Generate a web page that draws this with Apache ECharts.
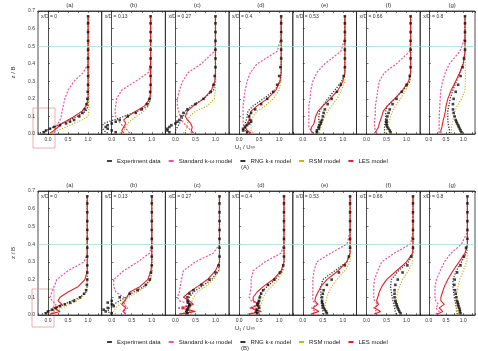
<!DOCTYPE html>
<html>
<head>
<meta charset="utf-8">
<script src="https://cdn.jsdelivr.net/npm/echarts@6/dist/echarts.min.js"></script>
<style>
html, body { margin: 0; padding: 0; background: #fff; }
#main { width: 478px; height: 351px; }
</style>
</head>
<body>
<div id="main"></div>
<script>
// panel tags and stations
var panelTags = ['(a)', '(b)', '(c)', '(d)', '(e)', '(f)', '(g)'];
var stations = ['x/D = 0', 'x/D = 0.13', 'x/D = 0.27', 'x/D = 0.4', 'x/D = 0.53', 'x/D = 0.66', 'x/D = 0.8'];
var modelNames = ['Experiment data', 'Standard k-ω model', 'RNG k-ε model', 'RSM model', 'LES model'];

// heights (z/B) where the profiles are read
var zModel = [0.005, 0.02, 0.04, 0.06, 0.08, 0.1, 0.13, 0.16, 0.2, 0.25, 0.3, 0.35, 0.4, 0.47, 0.55, 0.67];
var zExp = [0.01, 0.02, 0.03, 0.04, 0.05, 0.06, 0.07, 0.08, 0.1, 0.12, 0.14, 0.17, 0.2, 0.24, 0.28, 0.33, 0.38, 0.43, 0.48, 0.53, 0.58, 0.63, 0.67];

// ---- row (A) ----
var expA = [
  [-0.1, -0.05, 0.05, 0.15, 0.3, 0.45, 0.55, 0.65, 0.78, 0.86, 0.92, 0.96, 0.98, 0.99, 1.0, 1.0, 1.0, 1.0, 1.0, 1.0, 1.0, 1.0, 1.0],
  [0.1, 0.0, -0.1, -0.15, -0.1, 0.0, 0.1, 0.2, 0.4, 0.6, 0.75, 0.88, 0.94, 0.96, 0.97, 0.97, 0.97, 0.97, 0.97, 0.97, 0.97, 0.97, 0.97],
  [-0.15, -0.2, -0.2, -0.15, -0.1, 0.0, 0.05, 0.1, 0.15, 0.2, 0.3, 0.5, 0.7, 0.88, 0.95, 0.98, 1.0, 1.0, 1.0, 1.0, 1.0, 1.0, 1.0],
  [0.2, 0.1, 0.1, 0.15, 0.2, 0.25, 0.3, 0.28, 0.25, 0.3, 0.4, 0.55, 0.7, 0.85, 0.95, 1.0, 1.03, 1.05, 1.05, 1.05, 1.05, 1.05, 1.05],
  [0.35, 0.35, 0.4, 0.4, 0.42, 0.45, 0.45, 0.48, 0.5, 0.52, 0.55, 0.62, 0.72, 0.85, 0.95, 1.02, 1.05, 1.05, 1.05, 1.05, 1.05, 1.05, 1.05],
  [0.6, 0.58, 0.55, 0.52, 0.5, 0.5, 0.5, 0.5, 0.52, 0.55, 0.58, 0.65, 0.75, 0.88, 1.0, 1.08, 1.1, 1.1, 1.1, 1.1, 1.1, 1.1, 1.1],
  [0.95, 0.92, 0.9, 0.87, 0.85, 0.82, 0.8, 0.78, 0.75, 0.72, 0.7, 0.7, 0.72, 0.78, 0.85, 0.92, 0.98, 1.02, 1.05, 1.05, 1.05, 1.05, 1.05]
];
var kwA = [
  [0.15, 0.17, 0.2, 0.25, 0.3, 0.33, 0.35, 0.38, 0.42, 0.5, 0.65, 0.88, 1.0, 1.0, 1.0, 1.0],
  [0.45, 0.4, 0.3, 0.22, 0.15, 0.1, 0.08, 0.1, 0.12, 0.25, 0.6, 0.92, 0.97, 0.97, 0.97, 0.97],
  [0.4, 0.38, 0.3, 0.22, 0.15, 0.12, 0.08, 0.05, 0.05, 0.1, 0.18, 0.32, 0.65, 0.97, 1.0, 1.0],
  [0.3, 0.2, 0.12, 0.1, 0.1, 0.1, 0.1, 0.1, 0.12, 0.15, 0.2, 0.28, 0.45, 0.95, 1.05, 1.05],
  [0.25, 0.2, 0.15, 0.15, 0.15, 0.15, 0.15, 0.15, 0.18, 0.2, 0.25, 0.35, 0.55, 0.95, 1.05, 1.05],
  [0.25, 0.22, 0.2, 0.2, 0.2, 0.22, 0.22, 0.22, 0.25, 0.28, 0.32, 0.45, 0.75, 1.08, 1.1, 1.1],
  [0.3, 0.3, 0.3, 0.3, 0.3, 0.3, 0.31, 0.32, 0.33, 0.35, 0.4, 0.48, 0.6, 0.9, 1.05, 1.05]
];
var rngA = [
  [-0.2, -0.05, 0.15, 0.35, 0.55, 0.72, 0.95, 1.0, 1.0, 1.0, 1.0, 1.0, 1.0, 1.0, 1.0, 1.0],
  [-0.1, -0.2, -0.25, -0.2, 0.05, 0.3, 0.65, 0.9, 0.97, 0.97, 0.97, 0.97, 0.97, 0.97, 0.97, 0.97],
  [0.0, 0.0, 0.05, 0.1, 0.15, 0.2, 0.25, 0.4, 0.7, 0.95, 1.0, 1.0, 1.0, 1.0, 1.0, 1.0],
  [0.2, 0.15, 0.15, 0.15, 0.18, 0.2, 0.22, 0.35, 0.6, 0.9, 1.02, 1.05, 1.05, 1.05, 1.05, 1.05],
  [0.35, 0.35, 0.38, 0.4, 0.4, 0.4, 0.42, 0.5, 0.62, 0.8, 0.97, 1.05, 1.05, 1.05, 1.05, 1.05],
  [0.45, 0.45, 0.45, 0.46, 0.47, 0.48, 0.48, 0.52, 0.7, 0.92, 1.08, 1.1, 1.1, 1.1, 1.1, 1.1],
  [0.6, 0.6, 0.58, 0.56, 0.55, 0.55, 0.55, 0.58, 0.62, 0.7, 0.8, 0.9, 1.0, 1.05, 1.05, 1.05]
];
var rsmA = [
  [0.1, 0.25, 0.45, 0.65, 0.85, 1.0, 1.02, 1.02, 1.02, 1.02, 1.02, 1.02, 1.02, 1.02, 1.02, 1.02],
  [0.2, 0.3, 0.35, 0.4, 0.5, 0.62, 0.8, 0.92, 0.97, 0.98, 0.98, 0.98, 0.98, 0.98, 0.98, 0.98],
  [0.2, 0.25, 0.28, 0.3, 0.32, 0.35, 0.5, 0.8, 0.97, 1.0, 1.0, 1.0, 1.0, 1.0, 1.0, 1.0],
  [0.35, 0.3, 0.3, 0.3, 0.32, 0.35, 0.45, 0.65, 0.85, 1.0, 1.05, 1.05, 1.05, 1.05, 1.05, 1.05],
  [0.4, 0.42, 0.45, 0.48, 0.5, 0.55, 0.62, 0.72, 0.85, 0.97, 1.05, 1.05, 1.05, 1.05, 1.05, 1.05],
  [0.5, 0.5, 0.52, 0.55, 0.58, 0.6, 0.65, 0.72, 0.85, 0.98, 1.08, 1.1, 1.1, 1.1, 1.1, 1.1],
  [0.65, 0.65, 0.66, 0.68, 0.7, 0.72, 0.76, 0.82, 0.95, 1.05, 1.06, 1.06, 1.06, 1.06, 1.06, 1.06]
];
var lesA = [
  [0.05, 0.15, 0.25, 0.35, 0.5, 0.65, 0.85, 0.95, 1.0, 1.0, 1.0, 1.0, 1.0, 1.0, 1.0, 1.0],
  [0.3, 0.25, 0.3, 0.35, 0.3, 0.4, 0.6, 0.82, 0.95, 0.97, 0.97, 0.97, 0.97, 0.97, 0.97, 0.97],
  [0.45, 0.4, 0.42, 0.38, 0.3, 0.25, 0.3, 0.45, 0.7, 0.9, 0.98, 1.0, 1.0, 1.0, 1.0, 1.0],
  [0.3, 0.2, 0.15, 0.2, 0.25, 0.25, 0.3, 0.45, 0.7, 0.92, 1.02, 1.05, 1.05, 1.05, 1.05, 1.05],
  [0.25, 0.2, 0.22, 0.28, 0.3, 0.32, 0.38, 0.5, 0.68, 0.88, 1.0, 1.05, 1.05, 1.05, 1.05, 1.05],
  [0.2, 0.25, 0.3, 0.32, 0.35, 0.38, 0.42, 0.52, 0.7, 0.9, 1.05, 1.1, 1.1, 1.1, 1.1, 1.1],
  [0.35, 0.35, 0.38, 0.4, 0.42, 0.45, 0.48, 0.5, 0.55, 0.65, 0.78, 0.9, 1.0, 1.05, 1.05, 1.05]
];

// ---- row (B) ----
var expB = [
  [-0.05, 0.0, 0.1, 0.2, 0.3, 0.42, 0.55, 0.65, 0.8, 0.9, 0.95, 0.97, 0.98, 0.98, 0.98, 0.98, 0.98, 0.98, 0.98, 0.98, 0.98, 0.98, 0.98],
  [0.0, -0.15, -0.2, -0.1, 0.05, 0.0, -0.1, 0.0, 0.2, 0.45, 0.65, 0.85, 0.95, 0.98, 1.0, 1.0, 1.0, 1.0, 1.0, 1.0, 1.0, 1.0, 1.0],
  [0.3, 0.28, 0.3, 0.32, 0.35, 0.35, 0.32, 0.3, 0.3, 0.35, 0.45, 0.65, 0.85, 1.0, 1.08, 1.1, 1.1, 1.1, 1.1, 1.1, 1.1, 1.1, 1.1],
  [0.45, 0.42, 0.45, 0.5, 0.48, 0.45, 0.48, 0.5, 0.52, 0.55, 0.6, 0.72, 0.88, 1.02, 1.1, 1.12, 1.12, 1.12, 1.12, 1.12, 1.12, 1.12, 1.12],
  [0.6, 0.58, 0.55, 0.52, 0.5, 0.5, 0.48, 0.48, 0.48, 0.5, 0.52, 0.6, 0.72, 0.9, 1.05, 1.15, 1.18, 1.18, 1.18, 1.18, 1.18, 1.18, 1.18],
  [0.85, 0.82, 0.8, 0.78, 0.76, 0.75, 0.73, 0.72, 0.7, 0.7, 0.7, 0.72, 0.78, 0.9, 1.02, 1.12, 1.16, 1.16, 1.16, 1.16, 1.16, 1.16, 1.16],
  [0.92, 0.9, 0.9, 0.88, 0.86, 0.85, 0.84, 0.82, 0.8, 0.78, 0.76, 0.74, 0.75, 0.82, 0.92, 1.02, 1.08, 1.12, 1.12, 1.12, 1.12, 1.12, 1.12]
];
var kwB = [
  [0.1, 0.15, 0.12, 0.2, 0.1, 0.05, 0.1, 0.15, 0.22, 0.5, 0.9, 0.98, 0.98, 0.98, 0.98, 0.98],
  [0.35, 0.3, 0.4, 0.3, 0.35, 0.3, 0.1, 0.05, 0.05, 0.3, 0.65, 0.95, 1.0, 1.0, 1.0, 1.0],
  [0.1, 0.45, 0.05, 0.4, 0.1, 0.05, 0.1, 0.12, 0.15, 0.2, 0.5, 0.95, 1.1, 1.1, 1.1, 1.1],
  [0.2, 0.55, 0.25, 0.5, 0.3, 0.25, 0.28, 0.3, 0.3, 0.35, 0.65, 1.05, 1.12, 1.12, 1.12, 1.12],
  [0.25, 0.3, 0.22, 0.35, 0.25, 0.25, 0.25, 0.25, 0.25, 0.28, 0.35, 0.7, 1.1, 1.18, 1.18, 1.18],
  [0.2, 0.25, 0.18, 0.28, 0.2, 0.18, 0.18, 0.18, 0.2, 0.28, 0.38, 0.7, 1.1, 1.16, 1.16, 1.16],
  [0.2, 0.3, 0.2, 0.28, 0.2, 0.18, 0.18, 0.18, 0.22, 0.33, 0.45, 0.65, 0.95, 1.12, 1.12, 1.12]
];
var rngB = [
  [-0.15, 0.0, 0.2, 0.4, 0.6, 0.8, 0.95, 0.98, 0.98, 0.98, 0.98, 0.98, 0.98, 0.98, 0.98, 0.98],
  [0.0, -0.1, -0.05, 0.05, 0.2, 0.35, 0.55, 0.8, 0.97, 1.0, 1.0, 1.0, 1.0, 1.0, 1.0, 1.0],
  [0.3, 0.25, 0.3, 0.35, 0.3, 0.35, 0.45, 0.65, 0.9, 1.08, 1.1, 1.1, 1.1, 1.1, 1.1, 1.1],
  [0.45, 0.45, 0.42, 0.45, 0.48, 0.5, 0.55, 0.7, 0.9, 1.08, 1.12, 1.12, 1.12, 1.12, 1.12, 1.12],
  [0.5, 0.5, 0.48, 0.48, 0.47, 0.45, 0.45, 0.45, 0.5, 0.8, 1.1, 1.18, 1.18, 1.18, 1.18, 1.18],
  [0.75, 0.72, 0.7, 0.68, 0.66, 0.64, 0.62, 0.6, 0.62, 0.8, 1.05, 1.16, 1.16, 1.16, 1.16, 1.16],
  [0.85, 0.82, 0.8, 0.78, 0.76, 0.74, 0.72, 0.7, 0.7, 0.8, 0.95, 1.08, 1.12, 1.12, 1.12, 1.12]
];
var rsmB = [
  [-0.05, 0.15, 0.35, 0.55, 0.72, 0.85, 0.95, 0.98, 0.98, 0.98, 0.98, 0.98, 0.98, 0.98, 0.98, 0.98],
  [0.1, 0.05, 0.1, 0.2, 0.3, 0.42, 0.65, 0.85, 0.98, 1.0, 1.0, 1.0, 1.0, 1.0, 1.0, 1.0],
  [0.4, 0.35, 0.38, 0.4, 0.42, 0.45, 0.55, 0.75, 0.95, 1.1, 1.1, 1.1, 1.1, 1.1, 1.1, 1.1],
  [0.5, 0.5, 0.52, 0.55, 0.58, 0.6, 0.68, 0.8, 0.98, 1.1, 1.12, 1.12, 1.12, 1.12, 1.12, 1.12],
  [0.55, 0.55, 0.55, 0.56, 0.58, 0.6, 0.65, 0.72, 0.85, 1.05, 1.18, 1.18, 1.18, 1.18, 1.18, 1.18],
  [0.72, 0.72, 0.72, 0.73, 0.74, 0.75, 0.78, 0.82, 0.9, 1.05, 1.15, 1.16, 1.16, 1.16, 1.16, 1.16],
  [0.8, 0.8, 0.8, 0.8, 0.8, 0.8, 0.82, 0.85, 0.9, 1.0, 1.1, 1.12, 1.12, 1.12, 1.12, 1.12]
];
var lesB = [
  [0.05, 0.3, 0.15, 0.35, 0.25, 0.3, 0.5, 0.75, 0.92, 0.98, 0.98, 0.98, 0.98, 0.98, 0.98, 0.98],
  [0.35, 0.28, 0.35, 0.25, 0.32, 0.38, 0.45, 0.7, 0.9, 0.98, 1.0, 1.0, 1.0, 1.0, 1.0, 1.0],
  [0.1, 0.5, 0.15, 0.45, 0.35, 0.2, 0.35, 0.55, 0.8, 1.0, 1.1, 1.1, 1.1, 1.1, 1.1, 1.1],
  [0.25, 0.55, 0.3, 0.5, 0.35, 0.35, 0.45, 0.6, 0.85, 1.05, 1.12, 1.12, 1.12, 1.12, 1.12, 1.12],
  [0.2, 0.4, 0.25, 0.38, 0.3, 0.32, 0.38, 0.45, 0.6, 0.88, 1.1, 1.18, 1.18, 1.18, 1.18, 1.18],
  [0.2, 0.35, 0.2, 0.3, 0.25, 0.28, 0.32, 0.38, 0.5, 0.75, 1.0, 1.15, 1.16, 1.16, 1.16, 1.16],
  [0.25, 0.4, 0.3, 0.45, 0.35, 0.35, 0.4, 0.45, 0.55, 0.7, 0.88, 1.05, 1.12, 1.12, 1.12, 1.12]
];

var rows = [
  { top: 11, height: 123, ref: 0.5, tag: '(A)', exp: expA, kw: kwA, rng: rngA, rsm: rsmA, les: lesA },
  { top: 191, height: 124, ref: 0.4, tag: '(B)', exp: expB, kw: kwB, rng: rngB, rsm: rsmB, les: lesB }
];

var panelLeft = 38, panelW = 63.7;
var colors = ['#111111', '#e8569b', '#333333', '#cdb21e', '#e2232b'];
var axisColor = '#222';

function pairs(us, zs) {
  return us.map(function (u, k) { return [u, zs[k]]; });
}
function fmtU(v) {
  if (Math.abs(v) < 1e-6 || Math.abs(v - 0.5) < 1e-6 || Math.abs(v - 1) < 1e-6) return v.toFixed(1);
  return '';
}

var grids = [], xAxes = [], yAxes = [], series = [], titles = [], legends = [];

rows.forEach(function (row, r) {
  for (var i = 0; i < 7; i++) {
    var gi = r * 7 + i;
    var L = panelLeft + i * panelW;
    grids.push({ left: L, top: row.top, width: panelW, height: row.height,
      show: true, borderColor: axisColor, borderWidth: 0.8 });
    xAxes.push({
      gridIndex: gi, type: 'value', min: -0.25, max: 1.34, interval: 0.25,
      axisLine: { lineStyle: { color: axisColor, width: 0.8 } },
      axisTick: { inside: true, length: 2, lineStyle: { color: axisColor, width: 0.6 } },
      splitLine: { show: false },
      axisLabel: { fontSize: 5, color: '#333', margin: 3, formatter: fmtU }
    });
    xAxes.push({
      gridIndex: gi, type: 'value', position: 'top', min: -0.25, max: 1.34, interval: 0.25,
      axisLine: { lineStyle: { color: axisColor, width: 0.8 } },
      axisTick: { inside: true, length: 2, lineStyle: { color: axisColor, width: 0.6 } },
      splitLine: { show: false }, axisLabel: { show: false }
    });
    yAxes.push({
      gridIndex: gi, type: 'value', min: 0, max: 0.7, interval: 0.1,
      axisLine: { lineStyle: { color: axisColor, width: 0.8 } },
      axisTick: { inside: true, length: 2, lineStyle: { color: axisColor, width: 0.6 } },
      splitLine: { show: false },
      axisLabel: { show: i === 0, fontSize: 5, color: '#333', margin: 3,
        formatter: function (v) { return v.toFixed(1); } },
      name: i === 0 ? 'z / B' : '', nameLocation: 'middle', nameGap: 22, nameRotate: 90,
      nameTextStyle: { fontSize: 6, color: '#333' }
    });

    var models = [row.kw[i], row.rng[i], row.rsm[i], row.les[i]];
    var styles = [
      { type: [2, 1.5], width: 1.2 },
      { type: [1.2, 1.5], width: 1.3 },
      { type: [1.2, 1.5], width: 1.2 },
      { type: 'solid', width: 1.1 }
    ];
    models.forEach(function (us, m) {
      series.push({
        name: modelNames[m + 1], type: 'line', xAxisIndex: 2 * gi, yAxisIndex: gi,
        data: pairs(us, zModel), showSymbol: false, clip: true,
        lineStyle: { color: colors[m + 1], type: styles[m].type, width: styles[m].width },
        itemStyle: { color: colors[m + 1] }
      });
    });
    series.push({
      name: modelNames[0], type: 'scatter', xAxisIndex: 2 * gi, yAxisIndex: gi,
      data: pairs(row.exp[i], zExp), symbol: 'rect', symbolSize: 2.6, clip: true, z: 5,
      itemStyle: { color: colors[0] },
      markLine: { silent: true, symbol: ['none', 'none'], label: { show: false },
        lineStyle: { color: '#a9d9dd', type: 'solid', width: 0.8 },
        data: [{ yAxis: row.ref }] }
    });

    titles.push({ text: panelTags[i], left: L + panelW / 2, top: row.top - 9, textAlign: 'center', padding: 0,
      textStyle: { fontSize: 6, fontWeight: 'normal', color: '#333' } });
    titles.push({ text: stations[i], left: L + 3, top: row.top + 3, padding: 0,
      textStyle: { fontSize: 5, fontWeight: 'normal', color: '#333' } });
  }
  titles.push({ text: 'U₁ / U∞', left: 245, top: row.top + row.height + 10, textAlign: 'center', padding: 0,
    textStyle: { fontSize: 6, fontWeight: 'normal', color: '#333' } });
  titles.push({ text: row.tag, left: 245, top: row.top + row.height + 30, textAlign: 'center', padding: 0,
    textStyle: { fontSize: 6, fontWeight: 'normal', color: '#333' } });
  legends.push({
    top: row.top + row.height + 19, left: 102, icon: 'rect', itemWidth: 5, itemHeight: 2, itemGap: 8,
    selectedMode: false, data: modelNames,
    textStyle: { fontSize: 6, color: '#222' }
  });
});

var chart = echarts.init(document.getElementById('main'));
chart.setOption({
  backgroundColor: '#fff',
  animation: false,
  textStyle: { fontFamily: 'Liberation Sans, Arial, sans-serif' },
  title: titles,
  legend: legends,
  grid: grids,
  xAxis: xAxes,
  yAxis: yAxes,
  series: series,
  graphic: [
    { type: 'rect', shape: { x: 33, y: 108, width: 22, height: 40 }, style: { fill: 'none', stroke: '#e79a9a', lineWidth: 0.8 } },
    { type: 'rect', shape: { x: 32, y: 289, width: 22, height: 38 }, style: { fill: 'none', stroke: '#e79a9a', lineWidth: 0.8 } }
  ]
});
</script>
</body>
</html>
